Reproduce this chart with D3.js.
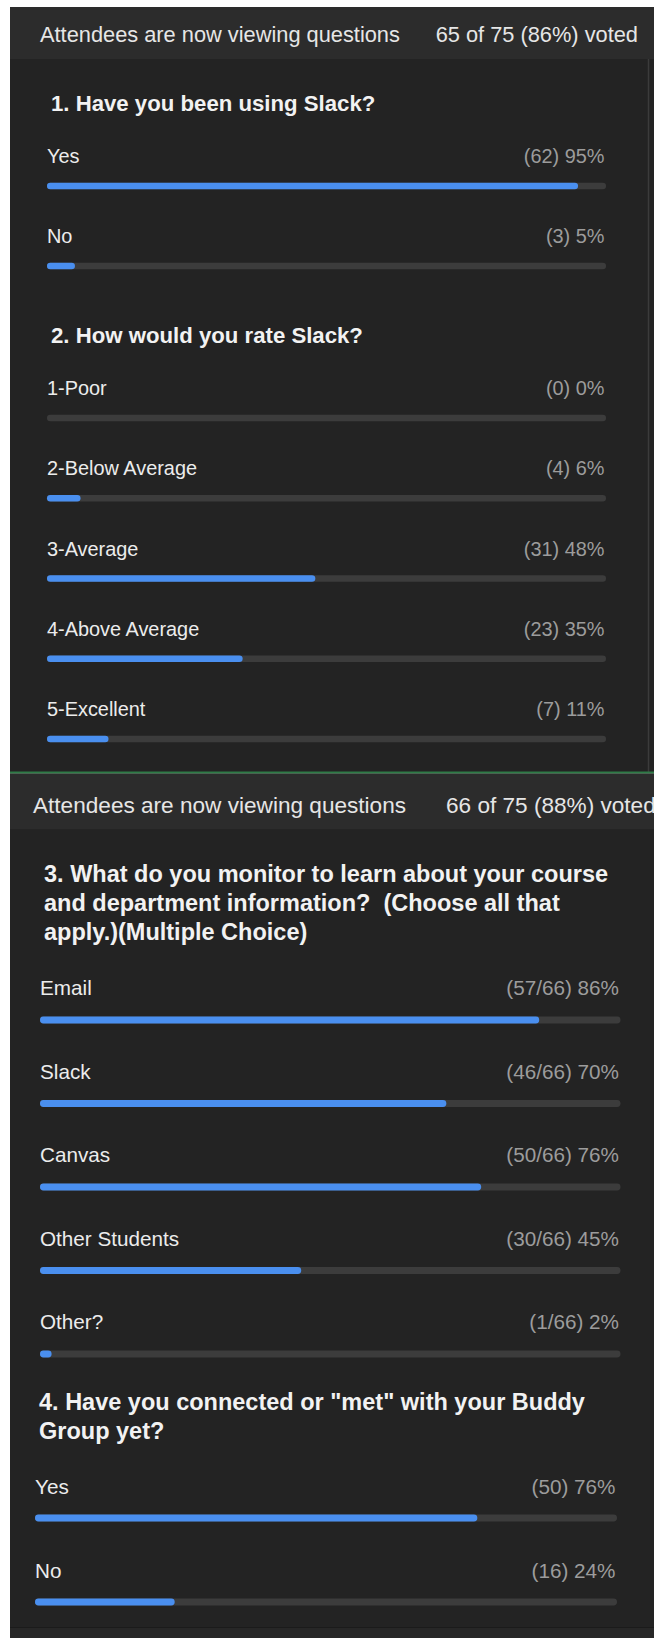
<!DOCTYPE html>
<html>
<head>
<meta charset="utf-8">
<script src="https://cdn.jsdelivr.net/npm/d3@7"></script>
<style>
  html, body { margin: 0; padding: 0; background: #ffffff; }
  svg { display: block; }
  text { font-family: "Liberation Sans", Arial, Helvetica, sans-serif; }
</style>
</head>
<body>
<svg id="chart" width="654" height="1638"></svg>
<script>
// ---------------- DATA ----------------
const header1Left = "Attendees are now viewing questions";
const header1Right = "65 of 75 (86%) voted";
const header2Left = "Attendees are now viewing questions";
const header2Right = "66 of 75 (88%) voted";

const q1Title = ["1. Have you been using Slack?"];
const q1Options = ["Yes", "No"];
const q1Counts = [62, 3];
const q1Pcts = [95, 5];

const q2Title = ["2. How would you rate Slack?"];
const q2Options = ["1-Poor", "2-Below Average", "3-Average", "4-Above Average", "5-Excellent"];
const q2Counts = [0, 4, 31, 23, 7];
const q2Pcts = [0, 6, 48, 35, 11];

const q3Title = [
  "3. What do you monitor to learn about your course",
  "and department information?  (Choose all that",
  "apply.)(Multiple Choice)"
];
const q3Options = ["Email", "Slack", "Canvas", "Other Students", "Other?"];
const q3Counts = [57, 46, 50, 30, 1];
const q3Total = 66;
const q3Pcts = [86, 70, 76, 45, 2];

const q4Title = ["4. Have you connected or \"met\" with your Buddy", "Group yet?"];
const q4Options = ["Yes", "No"];
const q4Counts = [50, 16];
const q4Pcts = [76, 24];

// ---------------- DRAWING ----------------
const svg = d3.select("#chart");
const BODY = "#232323", HEAD = "#2c2c2c", TRACK = "#3c3c3c", BLUE = "#4a8fef";

// panel backgrounds
svg.append("rect").attr("x", 10).attr("y", 7).attr("width", 644).attr("height", 766).attr("fill", BODY);
svg.append("rect").attr("x", 10).attr("y", 7).attr("width", 644).attr("height", 52).attr("fill", HEAD);
svg.append("line").attr("x1", 648.5).attr("x2", 648.5).attr("y1", 59).attr("y2", 772)
  .attr("stroke", "#3b3b3b").attr("stroke-width", 1.5);
svg.append("rect").attr("x", 10).attr("y", 771.5).attr("width", 644).attr("height", 2.2).attr("fill", "#2e7b47");
svg.append("rect").attr("x", 10).attr("y", 773.7).attr("width", 644).attr("height", 854).attr("fill", BODY);
svg.append("rect").attr("x", 10).attr("y", 773.7).attr("width", 644).attr("height", 55.5).attr("fill", HEAD);
svg.append("rect").attr("x", 10).attr("y", 1627).attr("width", 644).attr("height", 11).attr("fill", "#272727");
svg.append("line").attr("x1", 10).attr("x2", 654).attr("y1", 1627.5).attr("y2", 1627.5)
  .attr("stroke", "#1b1b1b").attr("stroke-width", 1);

// headers
function header(left, right, leftX, rightX, rightAnchor, baseline, size) {
  svg.append("text").attr("x", leftX).attr("y", baseline).attr("fill", "#e6e6e6")
    .attr("font-size", size).text(left);
  svg.append("text").attr("x", rightX).attr("y", baseline).attr("fill", "#e6e6e6")
    .attr("font-size", size).attr("text-anchor", rightAnchor).text(right);
}
header(header1Left, header1Right, 40, 638, "end", 42, 21.8);
header(header2Left, header2Right, 33, 446, "start", 813, 22.6);

// question block
function question(cfg) {
  const g = svg.append("g");
  g.selectAll("text.title").data(cfg.title).enter().append("text")
    .attr("class", "title")
    .attr("x", cfg.titleX)
    .attr("y", (d, i) => cfg.titleY + i * cfg.titleLH)
    .attr("fill", "#f2f2f2")
    .attr("font-weight", "bold")
    .attr("font-size", cfg.titleSize)
    .style("white-space", "pre")
    .text(d => d);

  const x = d3.scaleLinear().domain([0, 100]).range([cfg.x0, cfg.x1]);
  const y = d3.scalePoint().domain(cfg.options).range([cfg.yFirst, cfg.yLast]);
  const h = cfg.barH;

  const rows = g.selectAll("g.row").data(cfg.options.map((o, i) => ({
    o, c: cfg.counts[i], p: cfg.pcts[i]
  }))).enter().append("g").attr("class", "row");

  rows.append("text")
    .attr("x", cfg.x0)
    .attr("y", d => y(d.o) - cfg.labelOff)
    .attr("fill", "#ececec")
    .attr("font-size", cfg.optSize)
    .text(d => d.o);

  rows.append("text")
    .attr("x", cfg.x1 - 1.5)
    .attr("y", d => y(d.o) - cfg.labelOff)
    .attr("text-anchor", "end")
    .attr("fill", "#9c9c9c")
    .attr("font-size", cfg.optSize)
    .text(d => cfg.total ? `(${d.c}/${cfg.total}) ${d.p}%` : `(${d.c}) ${d.p}%`);

  rows.append("rect")
    .attr("x", cfg.x0)
    .attr("y", d => y(d.o) - h / 2)
    .attr("width", cfg.x1 - cfg.x0)
    .attr("height", h)
    .attr("rx", h / 2)
    .attr("fill", TRACK);

  rows.filter(d => d.p > 0).append("rect")
    .attr("x", cfg.x0)
    .attr("y", d => y(d.o) - h / 2)
    .attr("width", d => Math.max(h, x(d.p) - cfg.x0))
    .attr("height", h)
    .attr("rx", h / 2)
    .attr("fill", BLUE);
}

question({ title: q1Title, titleX: 51, titleY: 111, titleLH: 29, titleSize: 22.2,
  options: q1Options, counts: q1Counts, pcts: q1Pcts,
  x0: 47, x1: 606, yFirst: 186, yLast: 266, barH: 6.6, labelOff: 23, optSize: 19.9 });

question({ title: q2Title, titleX: 51, titleY: 343, titleLH: 29, titleSize: 22.2,
  options: q2Options, counts: q2Counts, pcts: q2Pcts,
  x0: 47, x1: 606, yFirst: 418, yLast: 739, barH: 6.6, labelOff: 23, optSize: 19.9 });

question({ title: q3Title, titleX: 44, titleY: 882, titleLH: 29, titleSize: 23.5,
  options: q3Options, counts: q3Counts, pcts: q3Pcts, total: q3Total,
  x0: 40, x1: 620.5, yFirst: 1020, yLast: 1354, barH: 6.8, labelOff: 25, optSize: 20.7 });

question({ title: q4Title, titleX: 39, titleY: 1410, titleLH: 29, titleSize: 23.5,
  options: q4Options, counts: q4Counts, pcts: q4Pcts,
  x0: 35, x1: 617, yFirst: 1518, yLast: 1602, barH: 6.8, labelOff: 24, optSize: 20.7 });
</script>
</body>
</html>
